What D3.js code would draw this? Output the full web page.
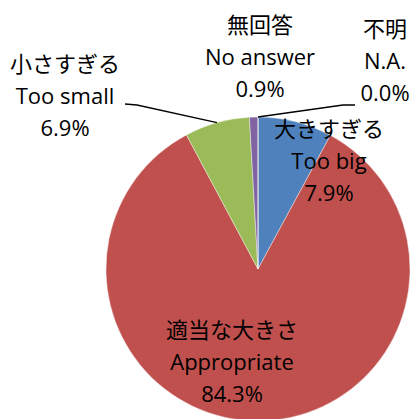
<!DOCTYPE html>
<html>
<head>
<meta charset="utf-8">
<script src="https://cdn.jsdelivr.net/npm/d3@7"></script>
<style>
  body { margin: 0; background: #fff; }
  text { font-family: "Open Sans", "Noto Sans CJK JP", sans-serif; fill: #000; }
</style>
</head>
<body>
<div id="chart"></div>
<script>
// data
let namesJa = ["大きすぎる", "適当な大きさ", "小さすぎる", "無回答", "不明"];
let namesEn = ["Too big", "Appropriate", "Too small", "No answer", "N.A."];
let values = [7.9, 84.3, 6.9, 0.9, 0.0];
let colors = ["#4F81BD", "#C0504D", "#9BBB59", "#8064A2", "#4BACC6"];

let width = 413, height = 419;
let cx = 258, cy = 269, radius = 152;

// where each label block sits (middle line centre)
let labelPos = [[329, 161], [232, 362], [65, 96], [260, 57], [385, 61]];
let lineGap = 32;

let svg = d3.select("#chart")
    .append("svg")
    .attr("width", width)
    .attr("height", height);

let g = svg.append("g")
    .attr("transform", "translate(" + cx + "," + cy + ")");

let pie = d3.pie().sort(null).value(function(d) { return d; });
let arcs = pie(values);

let arc = d3.arc().innerRadius(0).outerRadius(radius);

g.selectAll("path")
    .data(arcs)
    .enter()
    .append("path")
    .attr("d", arc)
    .attr("fill", function(d, i) { return colors[i]; })
    .attr("stroke", "#fff")
    .attr("stroke-width", 0.4);

// point on the rim at a slice's middle angle
function rim(d) {
  let a = (d.startAngle + d.endAngle) / 2;
  return [cx + radius * Math.sin(a), cy - radius * Math.cos(a)];
}

// leader lines for "Too small" and "N.A."
let p2 = rim(arcs[2]);
svg.append("polyline")
    .attr("points", [[125, 104], [137, 105], p2].join(" "))
    .attr("fill", "none")
    .attr("stroke", "#000")
    .attr("stroke-width", 1.3);

let p4 = rim(arcs[4]);
svg.append("polyline")
    .attr("points", [p4, [343, 105], [355, 105]].join(" "))
    .attr("fill", "none")
    .attr("stroke", "#000")
    .attr("stroke-width", 1.3);

// labels
values.forEach(function(v, i) {
  let t = svg.append("text")
      .attr("text-anchor", "middle")
      .style("font-size", "22px");
  let lines = [namesJa[i], namesEn[i], v.toFixed(1) + "%"];
  lines.forEach(function(s, k) {
    t.append("tspan")
        .attr("x", labelPos[i][0])
        .attr("y", labelPos[i][1] + (k - 1) * lineGap + 8)
        .text(s);
  });
});
</script>
</body>
</html>
